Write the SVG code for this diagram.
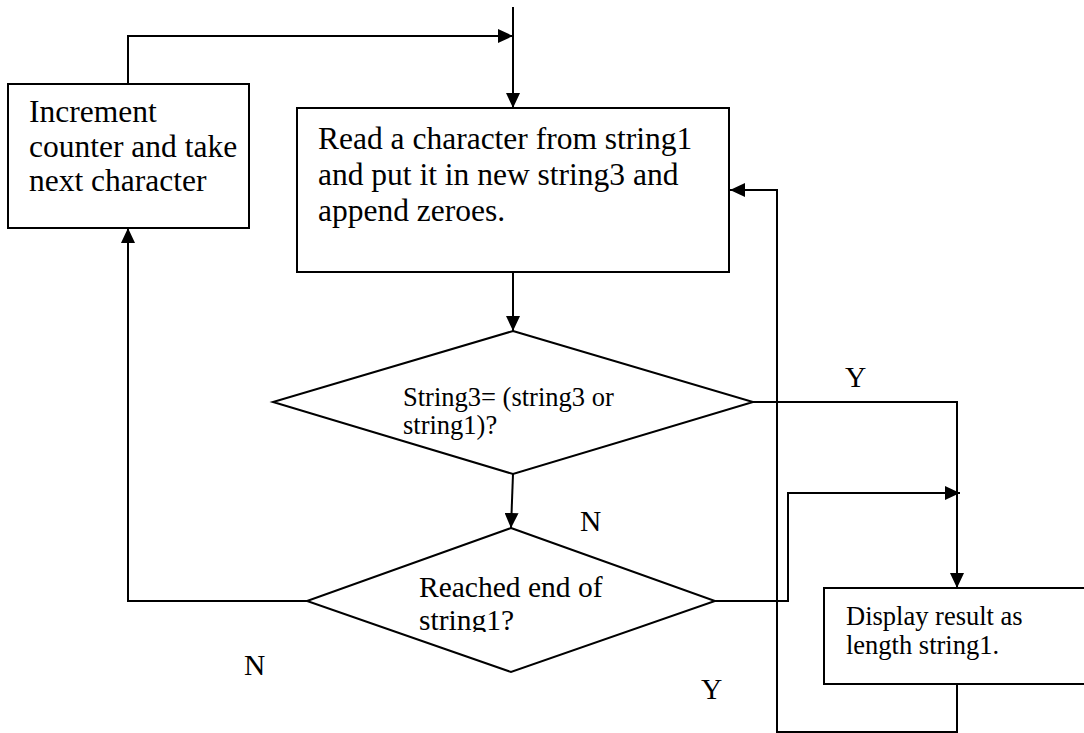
<svg xmlns="http://www.w3.org/2000/svg" width="1084" height="733" viewBox="0 0 1084 733">
  <style>
    .shape { fill: #ffffff; stroke: #000000; stroke-width: 2; }
    .wire { fill: none; stroke: #000000; stroke-width: 2; }
    .big { font-family: "Liberation Serif", "Times New Roman", serif; font-size: 31.5px; fill: #000000; }
    .mid { font-family: "Liberation Serif", "Times New Roman", serif; font-size: 29.5px; fill: #000000; }
    .small { font-family: "Liberation Serif", "Times New Roman", serif; font-size: 26.5px; fill: #000000; }
  </style>
  <defs>
    <marker id="arrow" viewBox="0 0 15 14" refX="15" refY="7" markerWidth="15" markerHeight="14" markerUnits="userSpaceOnUse" orient="auto">
      <path d="M0,0 L15,7 L0,14 Z" fill="#000000"/>
    </marker>
    <clipPath id="clip-end">
      <rect x="300" y="560" width="420" height="72"/>
    </clipPath>
  </defs>

  <rect width="1084" height="733" fill="#ffffff"/>

  <!-- connectors -->
  <g id="connectors">
    <path class="wire" d="M513,7 L513,108" marker-end="url(#arrow)"/>
    <path class="wire" d="M128,84 L128,36 L513,36" marker-end="url(#arrow)"/>
    <path class="wire" d="M513,272 L513,331" marker-end="url(#arrow)"/>
    <path class="wire" d="M513,474 L511,528" marker-end="url(#arrow)"/>
    <path class="wire" d="M307,601 L128,601 L128,228" marker-end="url(#arrow)"/>
    <path class="wire" d="M753,402 L957,402 L957,588" marker-end="url(#arrow)"/>
    <path class="wire" d="M715,601 L788,601 L788,493 L960,493" marker-end="url(#arrow)"/>
    <path class="wire" d="M957,684 L957,732 L777,732 L777,190 L730,190" marker-end="url(#arrow)"/>
  </g>

  <!-- increment step -->
  <g id="increment">
    <rect class="shape" x="8" y="84" width="241" height="144"/>
    <text class="big" x="29" y="122">Increment</text>
    <text class="big" x="29" y="157">counter and take</text>
    <text class="big" x="29" y="191">next character</text>
  </g>

  <!-- read step -->
  <g id="read">
    <rect class="shape" x="297" y="108" width="432" height="164"/>
    <text class="big" x="318" y="149">Read a character from string1</text>
    <text class="big" x="318" y="185">and put it in new string3 and</text>
    <text class="big" x="318" y="221">append zeroes.</text>
  </g>

  <!-- comparison decision -->
  <g id="compare">
    <path class="shape" d="M513,331 L753,402 L513,474 L273,402 Z"/>
    <text class="small" x="403" y="406">String3= (string3 or</text>
    <text class="small" x="403" y="434">string1)?</text>
  </g>

  <!-- end-of-string decision -->
  <g id="end-check">
    <path class="shape" d="M511,528 L715,601 L511,672 L307,601 Z"/>
    <g clip-path="url(#clip-end)">
      <text class="mid" x="419" y="597">Reached end of</text>
      <text class="mid" x="419" y="630">string1?</text>
    </g>
  </g>

  <!-- result output -->
  <g id="display">
    <rect class="shape" x="824" y="588" width="270" height="96"/>
    <text class="small" x="846" y="625">Display result as</text>
    <text class="small" x="846" y="654">length string1.</text>
  </g>

  <!-- branch labels -->
  <g id="labels">
    <text class="mid" x="845" y="387">Y</text>
    <text class="mid" x="580" y="531">N</text>
    <text class="mid" x="244" y="675">N</text>
    <text class="mid" x="701" y="699">Y</text>
  </g>
</svg>
